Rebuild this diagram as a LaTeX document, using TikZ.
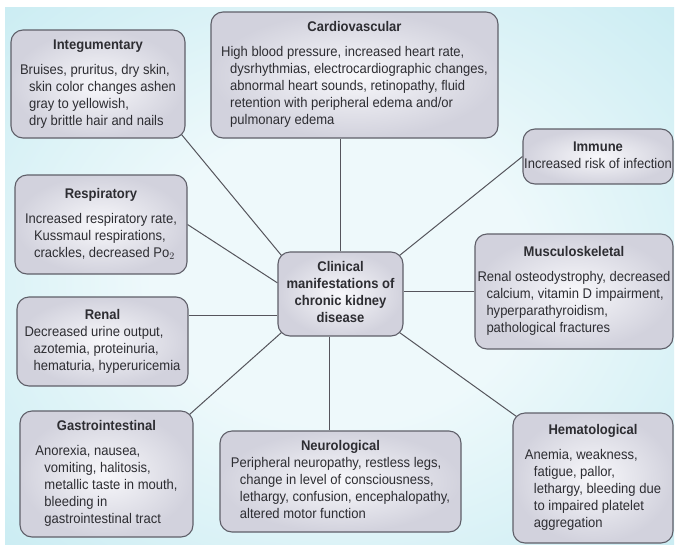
\documentclass[tikz,border=0pt]{standalone}
\usepackage{fontspec}
\setmainfont[FakeStretch=0.93]{Liberation Sans}
\usepackage{xcolor}
\usetikzlibrary{positioning, calc}
\pgfdeclarelayer{background}
\pgfsetlayers{background,main}
\definecolor{bgout}{RGB}{128,210,222}
\definecolor{bgmid}{RGB}{196,234,241}
\definecolor{bgin}{RGB}{238,249,251}
\definecolor{boxout}{RGB}{210,210,221}
\definecolor{boxin}{RGB}{248,248,251}
\definecolor{boxline}{RGB}{95,95,105}
\definecolor{linkline}{RGB}{85,85,92}
\definecolor{txt}{RGB}{45,45,50}
\pgfdeclareradialshading{bgglow}{\pgfpoint{0bp}{0bp}}{color(0bp)=(bgin); color(14bp)=(bgin); color(40bp)=(bgmid); color(64bp)=(bgout); color(71bp)=(bgout)}
\newcommand{\indln}{\hspace*{9pt}}
\newcommand{\boxtitle}[1]{\multicolumn{1}{@{}c@{}}{\bfseries #1}}

\begin{document}
\begin{tikzpicture}[x=1pt, y=-1pt,
    organ/.style={draw=boxline, line width=1.1pt, rounded corners=12pt,
      inner color=boxin, outer color=boxout, text=txt, inner sep=0pt,
      font=\fontsize{14}{17}\selectfont},
    link/.style={draw=linkline, line width=1pt}]
\useasboundingbox (0,0) rectangle (677,544);
% Backdrop
\begin{pgfonlayer}{background}
\fill[white] (0,0) rectangle (677,544);
\shade[shading=bgglow] (5,7) rectangle (674,544);
\end{pgfonlayer}

% Centre box
\node[organ, minimum width=125pt, minimum height=84pt] (clin) at (340.5,294) {%
  \begin{tabular}{@{}c@{}}\bfseries Clinical\\ \bfseries manifestations of\\ \bfseries chronic kidney\\ \bfseries disease\end{tabular}};

% Body systems
\node[organ, minimum width=174pt, minimum height=108pt] (integ) at (98,84) {%
  \begin{tabular}{@{}l@{}}\boxtitle{Integumentary}\\[8pt]
  Bruises, pruritus, dry skin,\\ \indln skin color changes ashen\\ \indln gray to yellowish,\\ \indln dry brittle hair and nails\end{tabular}};
\node[organ, minimum width=287pt, minimum height=126pt] (cardio) at (354.5,75) {%
  \begin{tabular}{@{}l@{}}\boxtitle{Cardiovascular}\\[8pt]
  High blood pressure, increased heart rate,\\ \indln dysrhythmias, electrocardiographic changes,\\ \indln abnormal heart sounds, retinopathy, fluid\\ \indln retention with peripheral edema and/or\\ \indln pulmonary edema\end{tabular}};
\node[organ, minimum width=150pt, minimum height=55pt] (immune) at (598,156.5) {%
  \begin{tabular}{@{}l@{}}\boxtitle{Immune}\\
  Increased risk of infection\end{tabular}};
\node[organ, minimum width=198pt, minimum height=115pt] (muscul) at (574,291.5) {%
  \begin{tabular}{@{}l@{}}\boxtitle{Musculoskeletal}\\[8pt]
  Renal osteodystrophy, decreased\\ \indln calcium, vitamin D impairment,\\ \indln hyperparathyroidism,\\ \indln pathological fractures\end{tabular}};
\node[organ, minimum width=172pt, minimum height=99pt] (resp) at (101,224.5) {%
  \begin{tabular}{@{}l@{}}\boxtitle{Respiratory}\\[8pt]
  Increased respiratory rate,\\ \indln Kussmaul respirations,\\ \indln crackles, decreased Po$_2$\end{tabular}};
\node[organ, minimum width=171pt, minimum height=89pt] (renal) at (102.5,341.5) {%
  \begin{tabular}{@{}l@{}}\boxtitle{Renal}\\
  Decreased urine output,\\ \indln azotemia, proteinuria,\\ \indln hematuria, hyperuricemia\end{tabular}};
\node[organ, minimum width=173pt, minimum height=126pt] (gastro) at (106.5,474) {%
  \begin{tabular}{@{}l@{}}\boxtitle{Gastrointestinal}\\[8pt]
  Anorexia, nausea,\\ \indln vomiting, halitosis,\\ \indln metallic taste in mouth,\\ \indln bleeding in\\ \indln gastrointestinal tract\end{tabular}};
\node[organ, minimum width=241pt, minimum height=101pt] (neuro) at (340.5,481.5) {%
  \begin{tabular}{@{}l@{}}\boxtitle{Neurological}\\
  Peripheral neuropathy, restless legs,\\ \indln change in level of consciousness,\\ \indln lethargy, confusion, encephalopathy,\\ \indln altered motor function\end{tabular}};
\node[organ, minimum width=160pt, minimum height=130pt] (hema) at (593,478) {%
  \begin{tabular}{@{}l@{}}\boxtitle{Hematological}\\[8pt]
  Anemia, weakness,\\ \indln fatigue, pallor,\\ \indln lethargy, bleeding due\\ \indln to impaired platelet\\ \indln aggregation\end{tabular}};

% Spokes
\coordinate (renalend) at ($(clin.south west)!0.25!(clin.north west)$);
\coordinate (neuroend) at ($(clin.south)+(-11,0)$);
\begin{pgfonlayer}{background}
\draw[link] ($(integ.south east)+(-4,-4)$) -- ($(clin.north west)+(4,4)$);
\draw[link] (clin.north) -- (clin.north |- cardio.south);
\draw[link] (immune.west) -- ($(clin.north east)+(-4,4)$);
\draw[link] (muscul.west) -- (muscul.west -| clin.east);
\draw[link] (resp.east) -- (clin.170);
\draw[link] (renalend) -- (renalend -| renal.east);
\draw[link] ($(gastro.north east)+(-4,4)$) -- ($(clin.south west)+(4,-4)$);
\draw[link] (neuroend) -- (neuroend |- neuro.north);
\draw[link] ($(hema.north west)+(4,4)$) -- ($(clin.south east)+(-4,-4)$);
\end{pgfonlayer}
\end{tikzpicture}
\end{document}
